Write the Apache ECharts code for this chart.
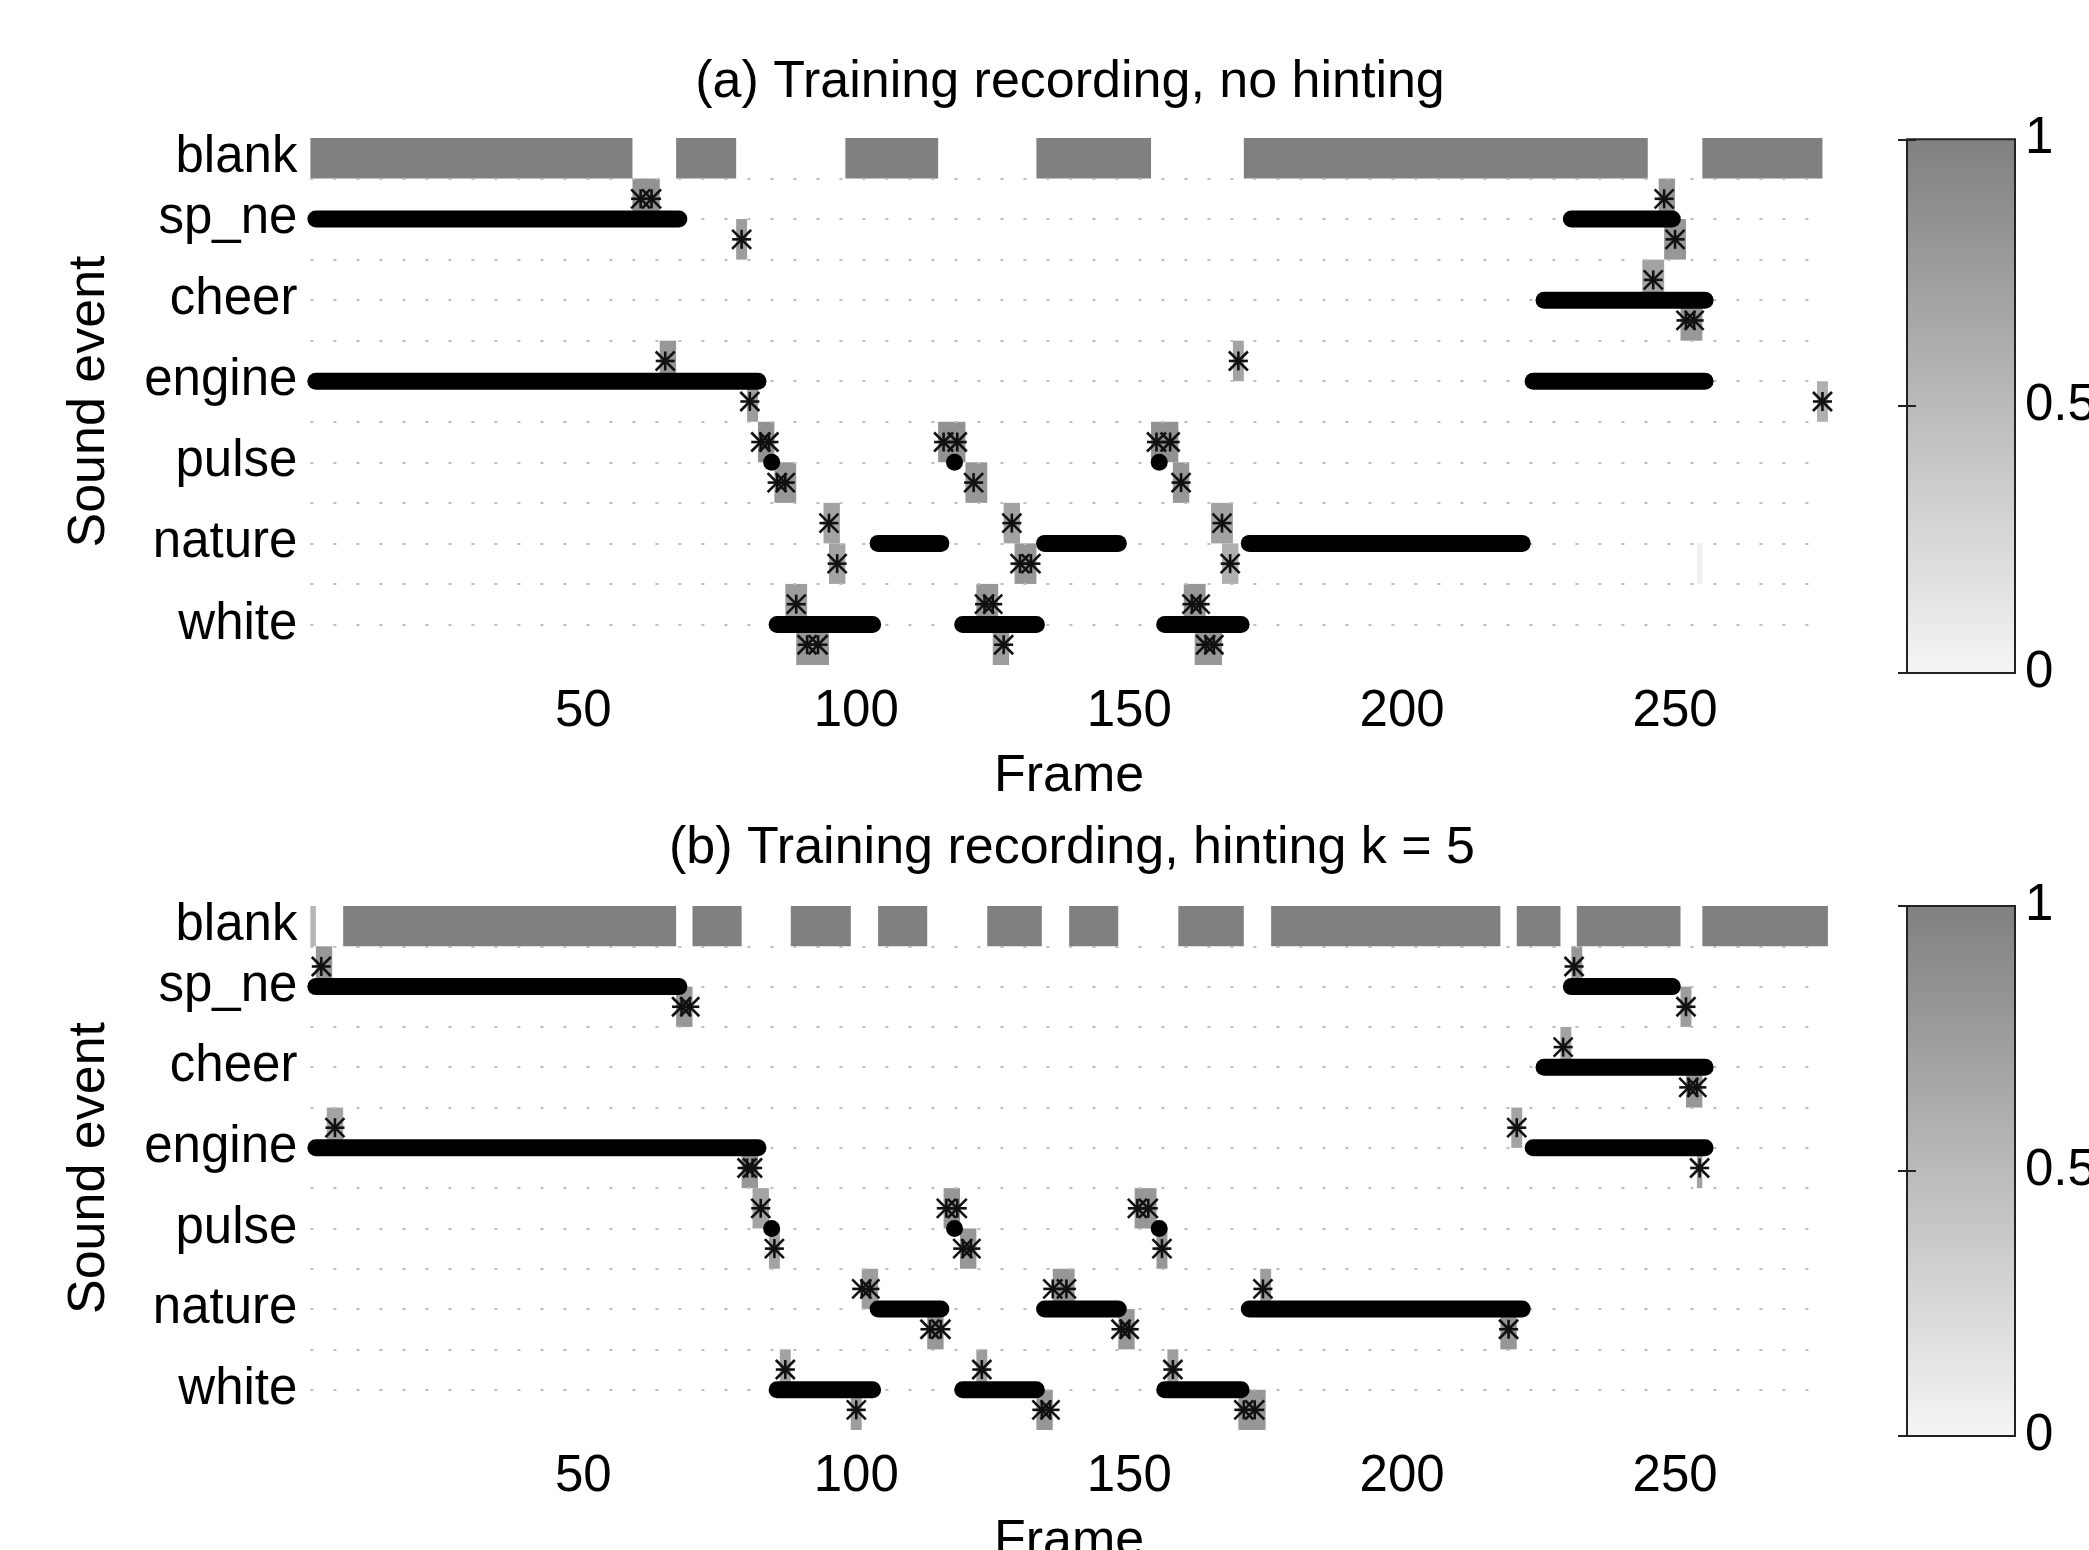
<!DOCTYPE html>
<html lang="en">
<head>
  <meta charset="utf-8">
  <title>sound event alignment</title>
</head>
<body style="margin: 0">
  <div id="container" style="width: 2089px; height: 1550px"></div>

  <script type="text/javascript" src="https://cdn.jsdelivr.net/npm/echarts@6/dist/echarts.min.js"></script>
  <script type="text/javascript">
// rows of the state axis: blank sits half a row above the first event
const rowNames = ['blank', 'sp_ne', 'cheer', 'engine', 'pulse', 'nature', 'white'];
const rowTicks = [-0.5, 1, 3, 5, 7, 9, 11];
const frameTicks = [50, 100, 150, 200, 250];

// black dots: event active from frame .. to frame (same in both panels)
const activeRuns = [
  ['sp_ne', 1, 67.5], ['sp_ne', 231, 249.5],
  ['cheer', 226, 255.5],
  ['engine', 1, 82], ['engine', 224, 255.5],
  ['pulse', 84.5, 84.5], ['pulse', 118, 118], ['pulse', 155.5, 155.5],
  ['nature', 104, 115.5], ['nature', 134.5, 148], ['nature', 172, 222],
  ['white', 85.5, 103], ['white', 119.5, 133], ['white', 156.5, 170.5]
];

// (a) no hinting
// blank probability: [from frame, to frame, value]
const blankA = [[0, 59, 1], [67, 78, 1], [98, 115, 1], [133, 154, 1], [171, 245, 1], [255, 277, 1]];
// onset/offset probability cells: [event, on|off, from, to, value]
const cellsA = [
  ['sp_ne', 'on', 59, 64, 0.85], ['sp_ne', 'off', 78, 80, 0.75],
  ['engine', 'on', 64, 67, 0.8], ['engine', 'off', 80, 82, 0.75],
  ['pulse', 'on', 82, 85, 0.85], ['pulse', 'off', 85, 89, 0.8],
  ['white', 'on', 87, 91, 0.75], ['white', 'off', 89, 95, 0.8],
  ['nature', 'on', 94, 97, 0.7], ['nature', 'off', 95, 98, 0.7],
  ['pulse', 'on', 115, 120, 0.85], ['pulse', 'off', 120, 124, 0.8],
  ['white', 'on', 122, 126, 0.8], ['white', 'off', 125, 128, 0.75],
  ['nature', 'on', 127, 130, 0.7], ['nature', 'off', 129, 133, 0.8],
  ['pulse', 'on', 154, 159, 0.85], ['pulse', 'off', 158, 161, 0.8],
  ['white', 'on', 160, 164, 0.8], ['white', 'off', 162, 167, 0.8],
  ['nature', 'on', 165, 169, 0.7], ['nature', 'off', 167, 170, 0.6],
  ['engine', 'on', 169, 171, 0.7],
  ['cheer', 'on', 244, 248, 0.7], ['cheer', 'off', 251, 255, 0.8],
  ['sp_ne', 'on', 247, 250, 0.8], ['sp_ne', 'off', 248, 252, 0.8],
  ['engine', 'off', 276, 278, 0.6],
  ['nature', 'off', 254, 255, 0.05]
];
// asterisks: [event, on|off, frame]
const starsA = [
  ['sp_ne', 'on', 60.5], ['sp_ne', 'on', 62.5], ['sp_ne', 'off', 79],
  ['engine', 'on', 65], ['engine', 'off', 80.5],
  ['pulse', 'on', 82.5], ['pulse', 'on', 84], ['pulse', 'off', 85.5], ['pulse', 'off', 87],
  ['white', 'on', 89], ['white', 'off', 91], ['white', 'off', 93],
  ['nature', 'on', 95], ['nature', 'off', 96.5],
  ['pulse', 'on', 116], ['pulse', 'on', 118.5], ['pulse', 'off', 121.5],
  ['white', 'on', 123.5], ['white', 'on', 125], ['white', 'off', 127],
  ['nature', 'on', 128.5], ['nature', 'off', 130], ['nature', 'off', 132],
  ['pulse', 'on', 155], ['pulse', 'on', 157.5], ['pulse', 'off', 159.5],
  ['white', 'on', 161.5], ['white', 'on', 163], ['white', 'off', 164], ['white', 'off', 165.5],
  ['nature', 'on', 167], ['nature', 'off', 168.5],
  ['engine', 'on', 170],
  ['cheer', 'on', 246], ['cheer', 'off', 252], ['cheer', 'off', 253.5],
  ['sp_ne', 'on', 248], ['sp_ne', 'off', 250],
  ['engine', 'off', 277]
];

// (b) hinting k = 5
const blankB = [[0, 1, 0.55], [6, 67, 1], [70, 79, 1], [88, 99, 1], [104, 113, 1], [124, 134, 1],
  [139, 148, 1], [159, 171, 1], [176, 218, 1], [221, 229, 1], [232, 251, 1], [255, 278, 1]];
const cellsB = [
  ['sp_ne', 'on', 1, 4, 0.8], ['sp_ne', 'off', 67, 70, 0.8],
  ['engine', 'on', 3, 6, 0.7], ['engine', 'off', 79, 82, 0.8],
  ['pulse', 'on', 81, 84, 0.7], ['pulse', 'off', 84, 86, 0.7],
  ['white', 'on', 86, 88, 0.7], ['white', 'off', 99, 101, 0.75],
  ['nature', 'on', 101, 104, 0.75], ['nature', 'off', 113, 116, 0.8],
  ['pulse', 'on', 116, 119, 0.8], ['pulse', 'off', 119, 122, 0.8],
  ['white', 'on', 122, 124, 0.75], ['white', 'off', 133, 136, 0.8],
  ['nature', 'on', 136, 140, 0.8], ['nature', 'off', 148, 151, 0.8],
  ['pulse', 'on', 151, 155, 0.8], ['pulse', 'off', 155, 157, 0.8],
  ['white', 'on', 157, 159, 0.75], ['white', 'off', 170, 175, 0.8],
  ['nature', 'on', 174, 176, 0.75], ['nature', 'off', 218, 221, 0.8],
  ['engine', 'on', 220, 222, 0.7], ['cheer', 'on', 229, 231, 0.7],
  ['sp_ne', 'on', 231, 233, 0.8], ['sp_ne', 'off', 251, 253, 0.75],
  ['cheer', 'off', 252, 255, 0.8], ['engine', 'off', 254, 255, 0.7]
];
const starsB = [
  ['sp_ne', 'on', 2], ['sp_ne', 'off', 68], ['sp_ne', 'off', 69.5],
  ['engine', 'on', 4.5], ['engine', 'off', 80], ['engine', 'off', 81],
  ['pulse', 'on', 82.5], ['pulse', 'off', 85],
  ['white', 'on', 87], ['white', 'off', 100],
  ['nature', 'on', 101], ['nature', 'on', 102.5], ['nature', 'off', 113.5], ['nature', 'off', 115.5],
  ['pulse', 'on', 116.5], ['pulse', 'on', 118.5], ['pulse', 'off', 119.5], ['pulse', 'off', 121],
  ['white', 'on', 123], ['white', 'off', 134], ['white', 'off', 135.5],
  ['nature', 'on', 136], ['nature', 'on', 138.5], ['nature', 'off', 148.5], ['nature', 'off', 150],
  ['pulse', 'on', 151.5], ['pulse', 'on', 153.5], ['pulse', 'off', 156],
  ['white', 'on', 158], ['white', 'off', 171], ['white', 'off', 173],
  ['nature', 'on', 174.5], ['nature', 'off', 219.5],
  ['engine', 'on', 221], ['cheer', 'on', 229.5], ['sp_ne', 'on', 231.5],
  ['sp_ne', 'off', 252], ['cheer', 'off', 252.5], ['cheer', 'off', 254], ['engine', 'off', 254.5]
];

const FONT = '"Liberation Sans", Arial, sans-serif';

function rowOf(name) {
  return rowTicks[rowNames.indexOf(name)];
}
function stateOf(name, side) {
  return rowOf(name) + (side === 'on' ? -0.5 : 0.5);
}

function renderCell(params, api) {
  var a = api.coord([api.value(0), api.value(2) - 0.5]);
  var b = api.coord([api.value(1), api.value(2) + 0.5]);
  var shape = echarts.graphic.clipRectByRect({
    x: a[0], y: Math.min(a[1], b[1]),
    width: b[0] - a[0], height: Math.abs(b[1] - a[1])
  }, params.coordSys);
  return shape && { type: 'rect', shape: shape, style: { fill: api.visual('color') } };
}

function renderRun(params, api) {
  var a = api.coord([api.value(0), api.value(2)]);
  var b = api.coord([api.value(1), api.value(2)]);
  var r = 8.5;
  return {
    type: 'rect',
    shape: { x: a[0] - r, y: a[1] - r, width: b[0] - a[0] + 2 * r, height: 2 * r, r: r },
    style: { fill: '#000' }
  };
}

function renderStar(params, api) {
  var p = api.coord([api.value(0), api.value(1)]);
  var s = 9.5;
  var st = { stroke: '#111', lineWidth: 2.6 };
  return {
    type: 'group',
    children: [
      { type: 'line', shape: { x1: p[0] - s, y1: p[1] - s, x2: p[0] + s, y2: p[1] + s }, style: st },
      { type: 'line', shape: { x1: p[0] - s, y1: p[1] + s, x2: p[0] + s, y2: p[1] - s }, style: st },
      { type: 'line', shape: { x1: p[0] - s, y1: p[1], x2: p[0] + s, y2: p[1] }, style: st },
      { type: 'line', shape: { x1: p[0], y1: p[1] - s, x2: p[0], y2: p[1] + s }, style: st }
    ]
  };
}

function panelSeries(xi, yi, blank, cells, stars) {
  var cellData = blank.map(function (b) { return [b[0], b[1], -0.5, b[2]]; })
    .concat(cells.map(function (c) { return [c[2], c[3], stateOf(c[0], c[1]), c[4]]; }));
  return [
    { type: 'custom', xAxisIndex: xi, yAxisIndex: yi, z: 0, renderItem: renderCell, data: cellData },
    {
      type: 'custom', xAxisIndex: xi, yAxisIndex: yi, z: 2, renderItem: renderRun,
      data: activeRuns.map(function (r) { return [r[1], r[2], rowOf(r[0])]; })
    },
    {
      type: 'custom', xAxisIndex: xi, yAxisIndex: yi, z: 3, renderItem: renderStar,
      data: stars.map(function (s) { return [s[2], stateOf(s[0], s[1])]; })
    }
  ];
}

function frameAxis(gridIndex) {
  return {
    type: 'value', gridIndex: gridIndex, min: 0, max: 278,
    axisLine: { show: false }, axisTick: { show: false }, splitLine: { show: false },
    axisLabel: { customValues: frameTicks, fontSize: 51, fontFamily: FONT, color: '#000', margin: 21 },
    name: 'Frame', nameLocation: 'middle', nameGap: 86,
    nameTextStyle: { fontSize: 52, fontFamily: FONT, color: '#000' }
  };
}

function stateAxis(gridIndex) {
  return {
    type: 'value', gridIndex: gridIndex, inverse: true, min: -1, max: 12, position: 'left',
    axisLine: { show: false }, axisTick: { show: false }, splitLine: { show: false },
    axisLabel: {
      customValues: rowTicks,
      formatter: function (v) { return rowNames[rowTicks.indexOf(v)]; },
      fontSize: 51, fontFamily: FONT, color: '#000', margin: 13
    },
    name: 'Sound event', nameLocation: 'middle', nameGap: 195,
    nameTextStyle: { fontSize: 52, fontFamily: FONT, color: '#000' }
  };
}

function gridLineAxis(gridIndex) {
  return {
    type: 'value', gridIndex: gridIndex, inverse: true, min: -1, max: 12, interval: 1,
    position: 'left', z: 1,
    axisLine: { show: false }, axisTick: { show: false }, axisLabel: { show: false },
    splitLine: {
      show: true, showMinLine: false, showMaxLine: false,
      lineStyle: { color: '#bdbdbd', width: 2, type: [3, 20] }
    }
  };
}

function barAxis(gridIndex, position, showLabel) {
  return {
    type: 'value', gridIndex: gridIndex, position: position, min: 0, max: 1, interval: 0.5, z: 5,
    axisLine: { show: false }, splitLine: { show: false },
    axisTick: { show: true, inside: true, length: 9, lineStyle: { color: '#222', width: 2 } },
    axisLabel: { show: showLabel, fontSize: 51, fontFamily: FONT, color: '#000', margin: 10 }
  };
}

function barGrid(top, height) {
  return {
    left: 1907, top: top, width: 108, height: height, show: true,
    outerBoundsMode: 'none', containLabel: false,
    borderColor: '#222', borderWidth: 2,
    backgroundColor: new echarts.graphic.LinearGradient(0, 0, 0, 1, [
      { offset: 0, color: '#808080' }, { offset: 1, color: '#f5f5f5' }
    ])
  };
}

var dom = document.getElementById('container');
var myChart = echarts.init(dom, null, { renderer: 'canvas' });

var titleStyle = { fontSize: 52, fontWeight: 'normal', fontFamily: FONT, color: '#000' };

var option = {
  animation: false,
  backgroundColor: '#fff',
  title: [
    { text: '(a) Training recording, no hinting', left: 1070, top: 57, textAlign: 'center', padding: 0, textStyle: titleStyle },
    { text: '(b) Training recording, hinting k = 5', left: 1072, top: 823, textAlign: 'center', padding: 0, textStyle: titleStyle }
  ],
  grid: [
    { left: 310.4, width: 1517.5, top: 138, height: 527, outerBoundsMode: 'none', containLabel: false },
    { left: 310.4, width: 1517.5, top: 906, height: 524, outerBoundsMode: 'none', containLabel: false },
    barGrid(139.3, 533.7),
    barGrid(906, 530)
  ],
  xAxis: [
    frameAxis(0),
    frameAxis(1),
    { type: 'value', gridIndex: 2, min: 0, max: 1, show: false },
    { type: 'value', gridIndex: 3, min: 0, max: 1, show: false }
  ],
  yAxis: [
    stateAxis(0), gridLineAxis(0),
    stateAxis(1), gridLineAxis(1),
    barAxis(2, 'right', true), barAxis(2, 'left', false),
    barAxis(3, 'right', true), barAxis(3, 'left', false)
  ],
  visualMap: [{
    type: 'continuous', show: false, min: 0, max: 1, dimension: 3, seriesIndex: [0, 3],
    inRange: { color: ['#f5f5f5', '#808080'] }
  }],
  series: panelSeries(0, 0, blankA, cellsA, starsA).concat(panelSeries(1, 2, blankB, cellsB, starsB))
};

myChart.setOption(option);
window.addEventListener('resize', myChart.resize);
  </script>
</body>
</html>
